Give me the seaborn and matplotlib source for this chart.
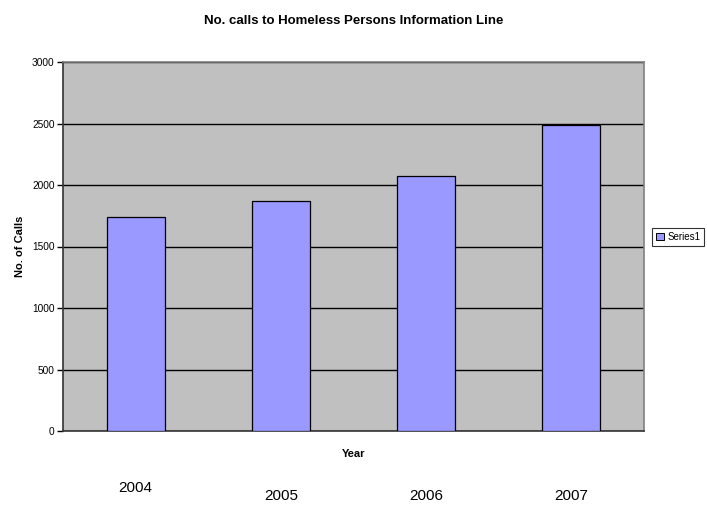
import pandas as pd
import seaborn as sns
import matplotlib
matplotlib.use('Agg')
import matplotlib.pyplot as plt
from matplotlib.transforms import ScaledTranslation
from matplotlib.patches import Patch

# data
years = ['2004', '2005', '2006', '2007']
calls = [1740, 1870, 2075, 2490]

df = pd.DataFrame({'Year': years, 'Calls': calls})

sns.set_style('white')
plt.rcParams['font.family'] = ['Liberation Sans', 'DejaVu Sans']
plt.rcParams['text.color'] = 'black'
plt.rcParams['axes.labelcolor'] = 'black'
plt.rcParams['xtick.color'] = 'black'
plt.rcParams['ytick.color'] = 'black'

fig = plt.figure(figsize=(7.07, 5.08), dpi=100)
ax = fig.add_axes([63 / 707, 77 / 508, 581 / 707, 369 / 508])
ax.set_facecolor('#C0C0C0')

sns.barplot(x='Year', y='Calls', data=df, color='#9999FF', width=0.4,
            edgecolor='black', linewidth=0.9, saturation=1, ax=ax, zorder=3)

# y axis like the excel chart
ax.set_ylim(0, 3000)
ax.set_yticks(range(0, 3001, 500))
ax.yaxis.grid(True, color='black', linewidth=1, zorder=1)
ax.set_axisbelow(True)
ax.tick_params(axis='y', direction='out', length=4, width=1, color='black',
               labelsize=7.3, pad=2, left=True)
ax.set_ylabel('No. of Calls', fontsize=8, fontweight='bold', labelpad=5)

for s in ['top', 'right']:
    ax.spines[s].set_color('#808080')
    ax.spines[s].set_linewidth(1.2)
for s in ['left', 'bottom']:
    ax.spines[s].set_color('#333333')
    ax.spines[s].set_linewidth(1.2)

# year labels sit under the axis title
ax.tick_params(axis='x', length=0, labelsize=11, pad=40)
for i, lab in enumerate(ax.get_xticklabels()):
    dy = 4 / 72 if i == 0 else -2 / 72
    lab.set_transform(lab.get_transform() + ScaledTranslation(0, dy, fig.dpi_scale_trans))
ax.set_xlabel('Year', fontsize=8, fontweight='bold')
ax.xaxis.set_label_coords(0.5, -0.05)

ax.set_title('No. calls to Homeless Persons Information Line', fontsize=9.5,
             fontweight='bold', pad=27)

handle = Patch(facecolor='#9999FF', edgecolor='black', linewidth=0.7)
leg = fig.legend([handle], ['Series1'], loc='center left', bbox_to_anchor=(652 / 707, 1 - 237 / 508),
                 fontsize=7, frameon=True, fancybox=False, handlelength=0.8, handleheight=0.8,
                 handletextpad=0.3, borderpad=0.45, borderaxespad=0)
leg.get_frame().set_edgecolor('black')
leg.get_frame().set_linewidth(0.8)

fig.savefig('out.png', dpi=100)
